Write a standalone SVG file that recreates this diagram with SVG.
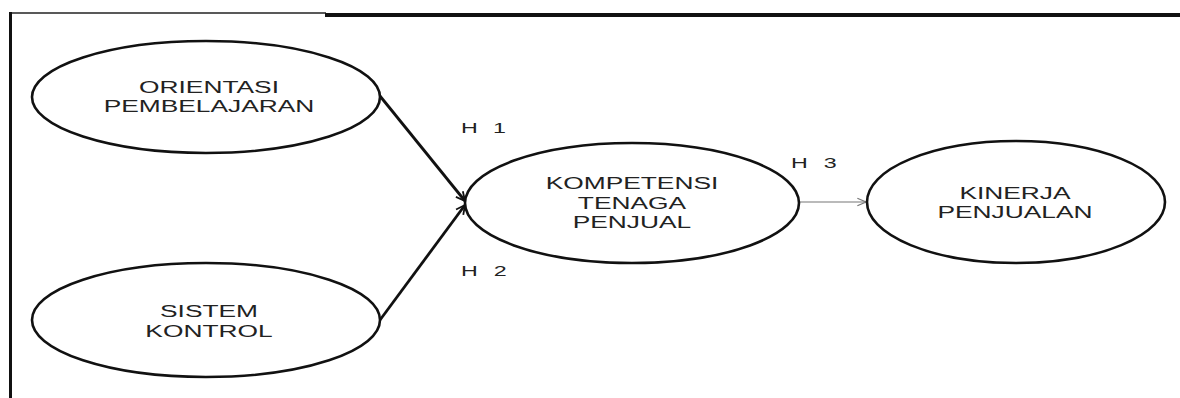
<svg xmlns="http://www.w3.org/2000/svg" width="1180" height="398" viewBox="0 0 1180 398">
<style>
.node{fill:#fff;stroke:#111;stroke-width:2.6}
.t{font-family:"Liberation Sans",Arial,sans-serif;font-size:17px;fill:#222;text-anchor:middle}
.h{font-family:"Liberation Sans",Arial,sans-serif;font-size:15px;fill:#222}
.e{stroke:#111;stroke-width:2.8;fill:none}
.e3{stroke:#777;stroke-width:1.2;fill:none}
</style>
<defs>
<marker id="ah" viewBox="0 0 10 10" refX="9" refY="5" markerWidth="4" markerHeight="4" orient="auto" markerUnits="strokeWidth">
<path d="M1,1 L9,5 L1,9" fill="none" stroke="#111" stroke-width="1.6"/>
</marker>
<marker id="ah3" viewBox="0 0 10 10" refX="9" refY="5" markerWidth="9" markerHeight="9" orient="auto" markerUnits="strokeWidth">
<path d="M1,1.5 L9,5 L1,8.5" fill="none" stroke="#777" stroke-width="1.2"/>
</marker>
</defs>
<rect width="1180" height="398" fill="#fff"/>
<g id="frame">
<line x1="9" y1="13" x2="326" y2="13" stroke="#222" stroke-width="1.6"/>
<line x1="325" y1="15" x2="1180" y2="15" stroke="#111" stroke-width="4"/>
<line x1="10.5" y1="12" x2="10.5" y2="398" stroke="#111" stroke-width="3"/>
</g>
<g id="connectors">
<line class="e" x1="380" y1="96" x2="465" y2="201" marker-end="url(#ah)"/>
<line class="e" x1="380" y1="320" x2="465" y2="205" marker-end="url(#ah)"/>
<line class="e3" x1="800" y1="202" x2="866" y2="202" marker-end="url(#ah3)"/>
<g transform="translate(461,0) scale(1.55,1)"><text class="h" x="0" y="133" textLength="29" lengthAdjust="spacing">H 1</text></g>
<g transform="translate(461,0) scale(1.55,1)"><text class="h" x="0" y="276" textLength="29.5" lengthAdjust="spacing">H 2</text></g>
<g transform="translate(791,0) scale(1.55,1)"><text class="h" x="0" y="168" textLength="29.5" lengthAdjust="spacing">H 3</text></g>
</g>
<g id="orientasi">
<ellipse class="node" cx="206" cy="97" rx="174" ry="56"/>
<g transform="translate(209,0) scale(1.55,1)">
<text class="t" x="0" y="93">ORIENTASI</text>
<text class="t" x="0" y="112">PEMBELAJARAN</text>
</g>
</g>
<g id="sistem">
<ellipse class="node" cx="206" cy="320" rx="174" ry="57"/>
<g transform="translate(209,0) scale(1.55,1)">
<text class="t" x="0" y="317">SISTEM</text>
<text class="t" x="0" y="337">KONTROL</text>
</g>
</g>
<g id="kompetensi">
<ellipse class="node" cx="632" cy="203" rx="167" ry="60"/>
<g transform="translate(632,0) scale(1.55,1)">
<text class="t" x="0" y="189">KOMPETENSI</text>
<text class="t" x="0" y="209">TENAGA</text>
<text class="t" x="0" y="228">PENJUAL</text>
</g>
</g>
<g id="kinerja">
<ellipse class="node" cx="1016" cy="202" rx="149" ry="61"/>
<g transform="translate(1015,0) scale(1.55,1)">
<text class="t" x="0" y="199">KINERJA</text>
<text class="t" x="0" y="218">PENJUALAN</text>
</g>
</g>
</svg>
